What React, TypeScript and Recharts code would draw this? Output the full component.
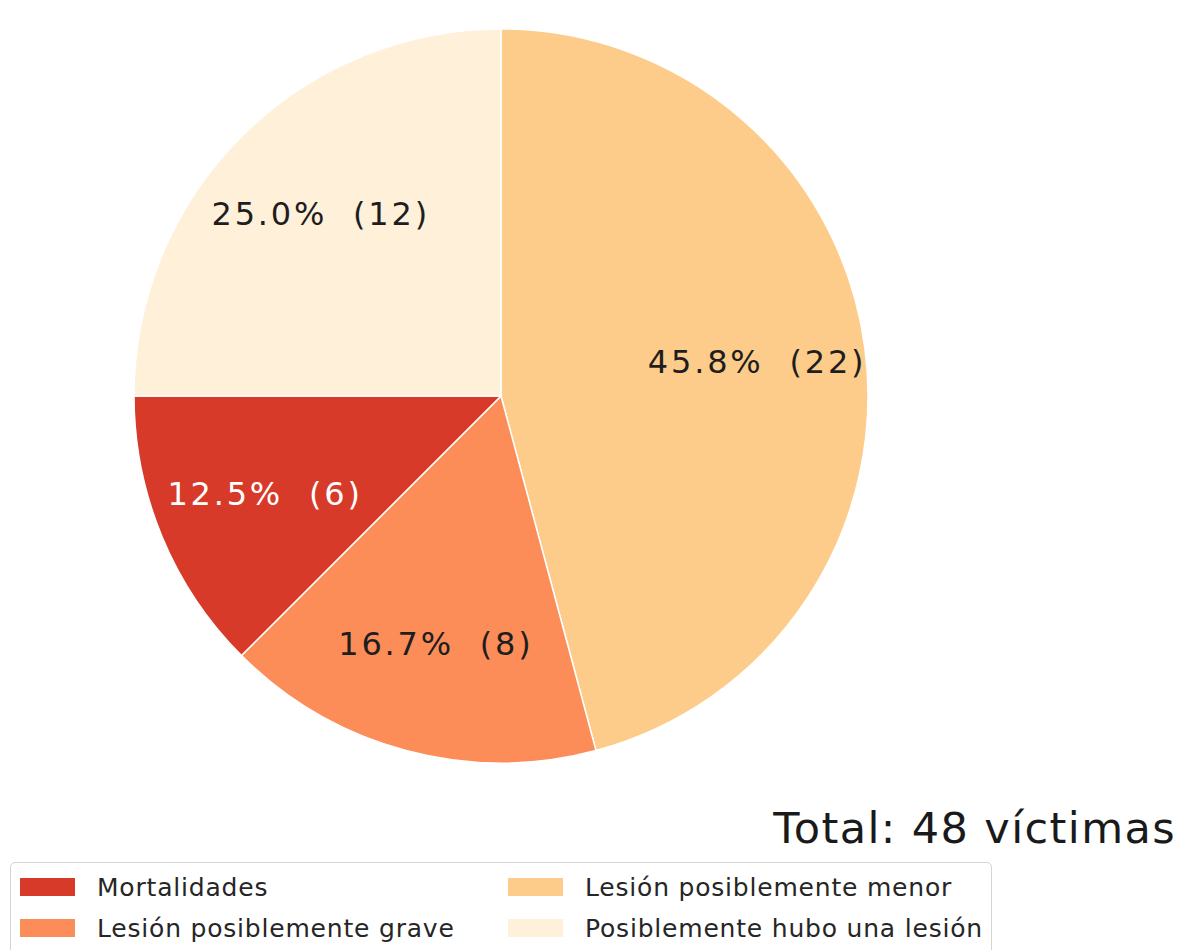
import React from 'react';
import { PieChart, Pie, Cell } from 'recharts';

// Slice order (clockwise from top)
const categories = [
  'Lesión posiblemente menor',
  'Lesión posiblemente grave',
  'Mortalidades',
  'Posiblemente hubo una lesión',
];
const values = [22, 8, 6, 12];
const sliceColors = ['#fdcc8a', '#fc8d59', '#d83a2a', '#fef0d9'];
const labelColors = ['#1e1e1e', '#1e1e1e', '#ffffff', '#1e1e1e'];

// Legend order
const legendOrder = [
  'Mortalidades',
  'Lesión posiblemente grave',
  'Lesión posiblemente menor',
  'Posiblemente hubo una lesión',
];

const totalLabel = 'Total: 48 víctimas';

const data = categories.map((name, i) => ({ name, value: values[i] }));
const FONT = '"DejaVu Sans", sans-serif';
const RAD = Math.PI / 180;

const renderLabel = (props: any) => {
  const { cx, cy, midAngle, outerRadius, percent, value, index } = props;
  const r = outerRadius * 0.7;
  const x = cx + r * Math.cos(-midAngle * RAD);
  const y = cy + r * Math.sin(-midAngle * RAD);
  return (
    <text
      x={x + 1.4}
      y={y}
      fill={labelColors[index]}
      textAnchor="middle"
      dominantBaseline="central"
      fontSize={32}
      fontFamily={FONT}
      letterSpacing={2.8}
      style={{ whiteSpace: 'pre' }}
    >
      {`${(percent * 100).toFixed(1)}%  (${value})`}
    </text>
  );
};

export default function App() {
  return (
    <div style={{ position: 'absolute', left: 0, top: 0, width: 1182, height: 950, background: '#fff', overflow: 'hidden' }}>
      <PieChart width={1182} height={950} margin={{ top: 0, right: 0, bottom: 0, left: 0 }}>
        <Pie
          data={data}
          dataKey="value"
          nameKey="name"
          cx={501}
          cy={396}
          outerRadius={367}
          startAngle={90}
          endAngle={-270}
          stroke="#ffffff"
          strokeWidth={1.5}
          label={renderLabel}
          labelLine={false}
          isAnimationActive={false}
        >
          {data.map((d, i) => (
            <Cell key={d.name} fill={sliceColors[i]} />
          ))}
        </Pie>
      </PieChart>
      <div
        style={{
          position: 'absolute',
          right: 6,
          top: 800,
          fontFamily: FONT,
          fontSize: 43,
          letterSpacing: 1.4,
          color: '#1a1a1a',
          lineHeight: '56px',
          whiteSpace: 'pre',
        }}
      >
        {totalLabel}
      </div>
      <div
        style={{
          position: 'absolute',
          left: 10,
          top: 862,
          width: 982,
          height: 100,
          border: '1.5px solid #d4d4d4',
          borderRadius: 5,
          background: '#fff',
          boxSizing: 'border-box',
          fontFamily: FONT,
        }}
      >
        {legendOrder.map((name, k) => {
          const idx = categories.indexOf(name);
          const col = Math.floor(k / 2);
          const row = k % 2;
          return (
            <div
              key={name}
              style={{
                position: 'absolute',
                left: col === 0 ? 9 : 497,
                top: row === 0 ? 7 : 48,
                height: 34,
                display: 'flex',
                alignItems: 'center',
                whiteSpace: 'pre',
              }}
            >
              <div style={{ width: 55, height: 18, background: sliceColors[idx], marginRight: 22 }} />
              <span style={{ fontSize: 25, letterSpacing: 0.8, color: '#262626' }}>{name}</span>
            </div>
          );
        })}
      </div>
    </div>
  );
}
